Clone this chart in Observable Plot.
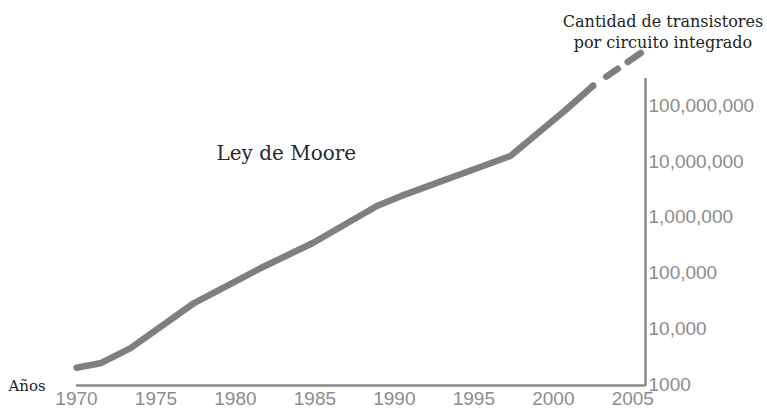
<!DOCTYPE html>
<html>
<head>
<meta charset="utf-8">
<script src="https://cdn.jsdelivr.net/npm/d3@7"></script>
<script src="https://cdn.jsdelivr.net/npm/@observablehq/plot@0.6"></script>
<style>
  html, body { margin: 0; padding: 0; background: #fff; }
  #chart { width: 767px; height: 408px; overflow: hidden; }
  svg { overflow: visible; }
</style>
</head>
<body>
<div id="chart"></div>
<script>
// Solid (historical) part of the curve
const years = [1970, 1971.5, 1973.4, 1977.4, 1981.6, 1984.9, 1988.9, 1990.4, 1997.3, 2000.7, 2002.5];
const transistors = [2000, 2400, 4500, 29000, 123000, 350000, 1600000, 2400000, 12600000, 81000000, 230000000];
// Dashed (projected) part
const projYears = [2002.5, 2005.5];
const projTransistors = [230000000, 890000000];

const xTicks = [1970, 1975, 1980, 1985, 1990, 1995, 2000, 2005];
const yTicks = [1000, 10000, 100000, 1000000, 10000000, 100000000];
const yTickLabels = ["1000", "10,000", "100,000", "1,000,000", "10,000,000", "100,000,000"];
const xDomain = [1970, 2005.8];
const yDomain = [1000, 310000000];

const chartTitle = ["Ley de Moore"];
const titlePos = [{x: 1983.2, y: 14000000}];
const yAxisTitle = "Cantidad de transistores\npor circuito integrado";
const yTitlePos = [{x: 2006.9, y: 2200000000}];
const xAxisTitle = "Años";

const solid = years.map((y, i) => ({year: y, value: transistors[i]}));
const proj = projYears.map((y, i) => ({year: y, value: projTransistors[i]}));

const serif = "'DejaVu Serif', serif";
const sans = "'Liberation Sans', Arial, sans-serif";
const axisGray = "#8a8a8a";
const lineGray = "#7f7f7f";

const plot = Plot.plot({
  width: 767,
  height: 408,
  marginLeft: 76,
  marginRight: 122,
  marginTop: 78,
  marginBottom: 24,
  x: {domain: xDomain, axis: null, label: null},
  y: {type: "log", domain: yDomain, axis: null, label: null},
  style: {background: "#fff"},
  marks: [
    Plot.axisX(xTicks, {anchor: "bottom", tickSize: 0, tickPadding: 7, tickFormat: d => String(d),
      fontSize: 19, fill: "#8c8c8c", fontFamily: sans, label: null}),
    Plot.axisY(yTicks, {anchor: "right", tickSize: 0, tickPadding: 3,
      tickFormat: (d, i) => yTickLabels[yTicks.indexOf(d)],
      fontSize: 19, fill: "#8c8c8c", fontFamily: sans, textAnchor: "start", label: null}),
    Plot.ruleY([yDomain[0]], {stroke: axisGray, strokeWidth: 2.5, dy: 1}),
    Plot.ruleX([xDomain[1]], {stroke: axisGray, strokeWidth: 2.5, insetBottom: -2}),
    Plot.line(solid, {x: "year", y: "value", stroke: lineGray, strokeWidth: 6.5, strokeLinejoin: "round"}),
    Plot.line(proj, {x: "year", y: "value", stroke: lineGray, strokeWidth: 6.5, strokeDasharray: "0 16 14 12 16"}),
    Plot.text(chartTitle, {x: () => titlePos[0].x, y: () => titlePos[0].y, text: d => d,
      fontSize: 20, fontFamily: serif, fill: "#2a2a2a", textAnchor: "middle"}),
    Plot.text([yAxisTitle], {x: () => yTitlePos[0].x, y: () => yTitlePos[0].y, text: d => d,
      fontSize: 16, fontFamily: serif, fill: "#222", textAnchor: "middle", lineHeight: 1.3}),
    Plot.text([xAxisTitle], {frameAnchor: "bottom-left", text: d => d, dx: -68, dy: 2,
      fontSize: 15, fontFamily: serif, fill: "#222", textAnchor: "start", lineAnchor: "middle"})
  ]
});
document.getElementById("chart").appendChild(plot);
</script>
</body>
</html>
